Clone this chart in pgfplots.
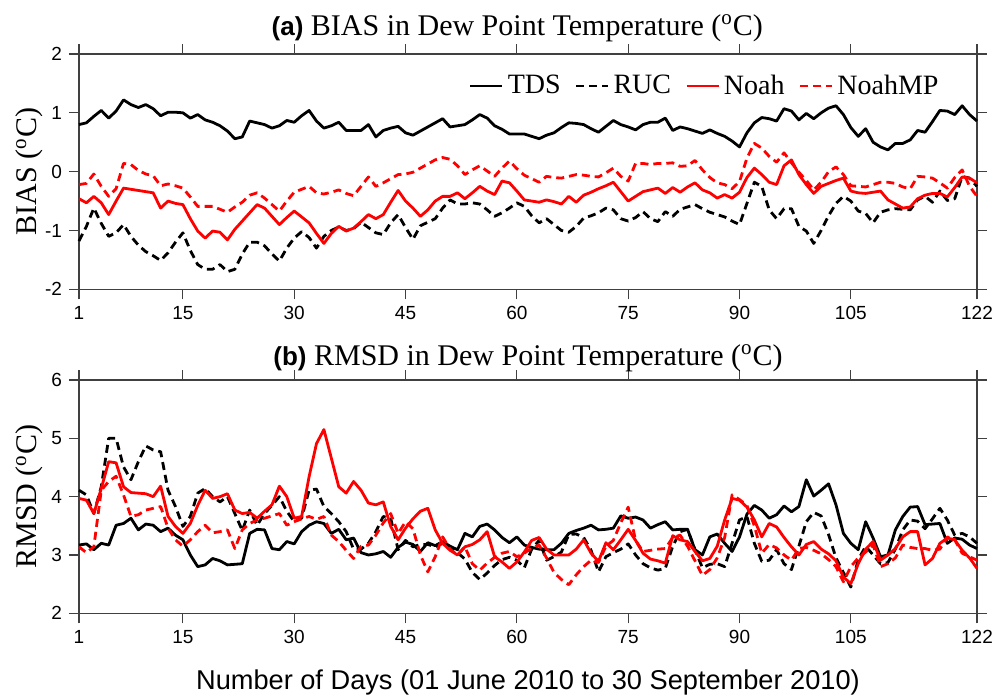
\documentclass[border=0pt]{standalone}
\usepackage{fontspec}
\setmainfont{Liberation Serif}
\newfontfamily\sansf{Liberation Sans}
\usepackage{pgfplots}
\pgfplotsset{compat=1.18}
\usepackage{pgfplotstable}

\pgfplotstableread{
d tds ruc noah mp
1 0.80 -1.18 -0.46 -0.22
2 0.83 -0.93 -0.53 -0.20
3 0.94 -0.62 -0.42 -0.04
4 1.04 -0.88 -0.53 -0.25
5 0.91 -1.10 -0.73 -0.42
6 1.03 -1.04 -0.50 -0.29
7 1.22 -0.90 -0.28 0.14
8 1.14 -1.10 -0.30 0.12
9 1.09 -1.25 -0.32 0.02
10 1.14 -1.36 -0.34 -0.04
11 1.07 -1.43 -0.36 -0.07
12 0.95 -1.51 -0.62 -0.24
13 1.01 -1.38 -0.50 -0.21
14 1.01 -1.20 -0.54 -0.24
15 1.00 -1.04 -0.56 -0.28
16 0.91 -1.34 -0.80 -0.43
17 0.97 -1.58 -1.01 -0.59
18 0.88 -1.66 -1.13 -0.59
19 0.84 -1.66 -1.01 -0.59
20 0.78 -1.58 -1.03 -0.64
21 0.69 -1.70 -1.16 -0.69
22 0.56 -1.66 -0.98 -0.60
23 0.59 -1.40 -0.84 -0.52
24 0.86 -1.20 -0.70 -0.40
25 0.83 -1.20 -0.56 -0.36
26 0.80 -1.26 -0.62 -0.45
27 0.74 -1.40 -0.76 -0.56
28 0.78 -1.52 -0.90 -0.67
29 0.87 -1.30 -0.78 -0.50
30 0.84 -1.13 -0.67 -0.35
31 0.95 -1.02 -0.77 -0.30
32 1.04 -1.12 -0.87 -0.25
33 0.86 -1.30 -1.05 -0.36
34 0.74 -1.10 -1.22 -0.38
35 0.78 -1.00 -1.05 -0.35
36 0.84 -0.94 -0.93 -0.31
37 0.70 -1.00 -1.01 -0.37
38 0.70 -0.97 -0.96 -0.41
39 0.70 -0.86 -0.85 -0.25
40 0.80 -0.95 -0.73 -0.09
41 0.59 -1.04 -0.80 -0.25
42 0.70 -1.07 -0.73 -0.19
43 0.74 -0.87 -0.52 -0.12
44 0.77 -0.73 -0.32 -0.05
45 0.66 -0.95 -0.50 -0.04
46 0.62 -1.15 -0.62 -0.01
47 0.69 -0.92 -0.76 0.06
48 0.76 -0.86 -0.65 0.13
49 0.83 -0.80 -0.50 0.20
50 0.90 -0.62 -0.42 0.24
51 0.76 -0.48 -0.42 0.21
52 0.78 -0.55 -0.36 0.10
53 0.80 -0.55 -0.46 -0.05
54 0.88 -0.53 -0.36 0.03
55 0.97 -0.55 -0.25 0.10
56 0.91 -0.65 -0.33 0.01
57 0.78 -0.76 -0.39 -0.08
58 0.72 -0.70 -0.16 0.06
59 0.64 -0.62 -0.19 0.18
60 0.64 -0.53 -0.33 0.05
61 0.64 -0.59 -0.48 -0.06
62 0.60 -0.75 -0.50 -0.12
63 0.56 -0.87 -0.52 -0.18
64 0.62 -0.80 -0.48 -0.08
65 0.66 -0.90 -0.51 -0.10
66 0.75 -1.00 -0.55 -0.11
67 0.83 -1.03 -0.42 -0.08
68 0.82 -0.93 -0.52 -0.05
69 0.80 -0.79 -0.40 -0.06
70 0.73 -0.75 -0.35 -0.08
71 0.67 -0.70 -0.29 -0.09
72 0.77 -0.62 -0.24 -0.02
73 0.87 -0.65 -0.18 0.06
74 0.80 -0.80 -0.34 -0.08
75 0.76 -0.84 -0.50 -0.16
76 0.71 -0.78 -0.42 0.14
77 0.80 -0.68 -0.34 0.14
78 0.84 -0.80 -0.31 0.12
79 0.84 -0.85 -0.28 0.14
80 0.91 -0.68 -0.37 0.14
81 0.70 -0.76 -0.27 0.15
82 0.76 -0.64 -0.35 0.09
83 0.73 -0.60 -0.26 0.10
84 0.69 -0.56 -0.19 0.19
85 0.65 -0.63 -0.31 0.03
86 0.71 -0.69 -0.36 -0.10
87 0.65 -0.73 -0.45 -0.19
88 0.60 -0.77 -0.39 -0.22
89 0.52 -0.84 -0.45 -0.29
90 0.42 -0.90 -0.35 -0.17
91 0.66 -0.54 -0.10 0.23
92 0.83 -0.18 0.06 0.48
93 0.92 -0.25 -0.05 0.40
94 0.90 -0.65 -0.18 0.26
95 0.86 -0.80 -0.22 0.16
96 1.07 -0.63 0.10 0.32
97 1.03 -0.63 0.20 0.15
98 0.88 -0.93 -0.05 -0.01
99 0.99 -1.01 -0.22 -0.15
100 0.90 -1.22 -0.37 -0.31
101 1.00 -1.00 -0.25 -0.18
102 1.08 -0.75 -0.20 0.00
103 1.12 -0.54 -0.15 0.08
104 0.97 -0.42 -0.11 -0.05
105 0.75 -0.50 -0.33 -0.24
106 0.60 -0.67 -0.36 -0.25
107 0.73 -0.71 -0.37 -0.26
108 0.50 -0.87 -0.35 -0.22
109 0.42 -0.69 -0.33 -0.18
110 0.37 -0.65 -0.48 -0.18
111 0.48 -0.63 -0.55 -0.20
112 0.48 -0.64 -0.62 -0.26
113 0.54 -0.65 -0.60 -0.29
114 0.70 -0.48 -0.46 -0.08
115 0.67 -0.42 -0.40 -0.09
116 0.85 -0.52 -0.37 -0.11
117 1.04 -0.33 -0.37 -0.19
118 1.03 -0.49 -0.43 -0.28
119 0.97 -0.46 -0.27 -0.10
120 1.12 -0.08 -0.09 0.03
121 0.97 -0.11 -0.11 -0.25
122 0.86 -0.25 -0.19 -0.42
}\topdata

\pgfplotstableread{
d tds ruc noah mp
1 3.17 4.11 3.97 3.14
2 3.19 4.03 3.94 3.04
3 3.09 3.71 3.71 3.14
4 3.20 4.17 4.14 4.11
5 3.17 5.00 4.60 4.26
6 3.51 5.00 4.58 4.35
7 3.54 4.51 4.17 4.03
8 3.63 4.29 4.07 3.66
9 3.43 4.60 4.06 3.69
10 3.53 4.87 4.05 3.77
11 3.51 4.80 4.00 3.80
12 3.40 4.77 4.18 3.83
13 3.46 4.11 3.66 3.46
14 3.34 3.83 3.49 3.26
15 3.26 3.49 3.37 3.15
16 3.00 3.66 3.54 3.26
17 2.80 4.06 3.85 3.40
18 2.83 4.14 4.11 3.51
19 2.94 4.00 3.97 3.38
20 2.90 3.91 4.00 3.40
21 2.83 4.00 4.05 3.43
22 2.84 3.71 3.77 3.11
23 2.85 3.42 3.71 3.43
24 3.37 3.77 3.73 3.54
25 3.44 3.51 3.63 3.60
26 3.43 3.71 3.75 3.63
27 3.11 3.85 3.86 3.67
28 3.09 4.00 4.18 3.71
29 3.23 3.75 4.00 3.51
30 3.19 3.57 3.63 3.57
31 3.40 3.63 3.66 3.62
32 3.51 4.11 4.34 3.66
33 3.57 4.13 4.91 3.61
34 3.54 3.83 5.15 3.66
35 3.37 3.71 4.66 3.34
36 3.44 3.57 4.17 3.23
37 3.26 3.40 4.06 3.08
38 3.29 3.10 4.26 2.94
39 3.04 3.10 4.11 3.15
40 3.00 3.20 3.89 3.17
41 3.02 3.40 3.86 3.34
42 3.06 3.66 3.91 3.55
43 2.96 3.63 3.49 3.71
44 3.13 3.09 3.26 3.37
45 3.22 3.25 3.46 3.57
46 3.18 3.14 3.62 3.45
47 3.06 3.18 3.75 3.00
48 3.21 3.18 3.80 2.71
49 3.16 3.14 3.43 2.97
50 3.23 3.20 3.20 3.31
51 3.15 3.11 3.08 3.10
52 3.09 3.04 3.00 3.00
53 3.37 2.93 3.14 3.14
54 3.31 2.70 3.18 2.85
55 3.49 2.58 3.26 2.74
56 3.53 2.69 3.40 2.86
57 3.43 2.82 2.97 2.96
58 3.30 2.92 2.88 3.03
59 3.21 2.96 2.77 3.06
60 3.31 2.91 2.88 2.97
61 3.17 2.78 3.05 3.03
62 3.13 3.10 3.25 3.12
63 3.10 3.25 3.30 3.17
64 3.09 2.91 3.10 2.95
65 3.09 2.97 3.00 2.70
66 3.20 3.05 3.00 2.58
67 3.37 3.35 3.00 2.49
68 3.42 3.36 3.10 2.66
69 3.46 3.30 3.26 2.80
70 3.51 3.08 3.03 2.91
71 3.43 2.71 2.89 2.87
72 3.44 2.97 3.21 3.15
73 3.46 3.04 3.09 3.25
74 3.67 3.10 3.26 3.55
75 3.63 3.19 3.44 3.82
76 3.65 3.00 3.25 3.25
77 3.60 2.85 3.03 3.06
78 3.46 2.78 2.93 3.08
79 3.52 2.74 2.90 3.10
80 3.57 2.77 2.86 3.11
81 3.43 3.15 3.33 3.30
82 3.44 3.40 3.26 3.34
83 3.44 3.44 3.23 3.15
84 3.09 3.09 3.06 2.90
85 3.00 2.78 2.90 2.65
86 3.31 2.84 2.94 2.75
87 3.36 2.85 3.15 2.95
88 3.20 2.80 3.60 3.30
89 3.06 3.20 3.97 4.03
90 3.31 3.60 3.94 3.95
91 3.70 3.66 3.82 3.85
92 3.85 3.20 3.60 3.50
93 3.77 2.89 3.31 3.03
94 3.63 2.91 3.54 3.18
95 3.69 3.09 3.48 3.12
96 3.84 2.85 3.30 3.00
97 3.74 2.75 3.14 2.91
98 3.83 3.15 3.00 3.11
99 4.29 3.57 3.18 3.13
100 4.01 3.73 3.23 3.08
101 4.11 3.67 3.10 3.02
102 4.22 3.35 3.02 2.92
103 3.86 2.95 2.90 2.80
104 3.37 2.70 2.62 2.54
105 3.20 2.45 2.51 2.80
106 3.09 2.92 2.85 2.95
107 3.57 3.15 3.10 3.05
108 3.29 3.00 3.23 3.17
109 2.97 2.85 2.91 2.80
110 3.00 2.87 3.00 2.85
111 3.43 3.10 3.11 2.95
112 3.66 3.43 3.31 3.17
113 3.82 3.60 3.40 3.13
114 3.83 3.58 3.40 3.11
115 3.52 3.45 2.83 3.11
116 3.53 3.62 2.94 3.08
117 3.54 3.80 3.20 3.10
118 3.20 3.60 3.29 3.31
119 3.29 3.34 3.26 3.26
120 3.27 3.37 3.08 3.03
121 3.17 3.31 2.95 2.97
122 3.11 3.20 2.77 2.91
}\botdata

\pgfplotsset{
  panel/.style={
    scale only axis, width=449pt,
    xmin=1, xmax=122,
    xtick={1,15,30,45,60,75,90,105,122},
    tick align=outside, major tick length=5pt,
    axis line style={black!75, line width=0.6pt},
    tick style={black!75, line width=0.6pt},
    /pgf/number format/assume math mode=true,
    tick label style={font=\sansf\fontsize{9.5}{11}\selectfont, black},
    clip=false,
  },
  tds/.style={black, line width=1.4pt, line join=round},
  ruc/.style={black, line width=1.4pt, line join=round, dash pattern=on 4pt off 2.5pt},
  noah/.style={red, line width=1.4pt, line join=round},
  nmp/.style={red, line width=1.4pt, line join=round, dash pattern=on 4pt off 2.5pt},
}

\begin{document}
\begin{tikzpicture}
\useasboundingbox (0pt,0pt) rectangle (499pt,-349.5pt);

\begin{axis}[panel,
  at={(39.5pt,-144.65pt)}, anchor=south west,
  height=117.65pt,
  ymin=-2, ymax=2, ytick={-2,-1,0,1,2},
  legend columns=4,
  legend style={draw=none, fill=none, at={(0.962,0.93)}, anchor=north east,
    font=\fontsize{14}{16}\selectfont, inner sep=0pt,
    /tikz/every even column/.append style={column sep=5pt}},
  legend image code/.code={\draw[#1] (0pt,0pt) -- (16pt,0pt);},
]
\addplot[tds] table[x=d, y=tds] {\topdata};
\addplot[ruc] table[x=d, y=ruc] {\topdata};
\addplot[noah] table[x=d, y=noah] {\topdata};
\addplot[nmp] table[x=d, y=mp] {\topdata};
\legend{TDS, RUC, Noah, NoahMP}
\node[anchor=base, font=\fontsize{15}{17}\selectfont] at ([yshift=9.5pt]rel axis cs:0.488,1)
  {{\sansf\bfseries\fontsize{13}{15}\selectfont (a)} BIAS in Dew Point Temperature (\textsuperscript{o}C)};
\node[anchor=base, xshift=-21.2pt, rotate=90, font=\fontsize{15}{17}\selectfont] at (rel axis cs:0,0.5)
  {BIAS (\textsuperscript{o}C)};
\end{axis}

\begin{axis}[panel,
  at={(39.5pt,-306.65pt)}, anchor=south west,
  height=116.65pt,
  ymin=2, ymax=6, ytick={2,3,4,5,6},
]
\addplot[tds] table[x=d, y=tds] {\botdata};
\addplot[ruc] table[x=d, y=ruc] {\botdata};
\addplot[noah] table[x=d, y=noah] {\botdata};
\addplot[nmp] table[x=d, y=mp] {\botdata};
\node[anchor=base, font=\fontsize{15}{17}\selectfont] at ([yshift=7.5pt]rel axis cs:0.5,1)
  {{\sansf\bfseries\fontsize{13}{15}\selectfont (b)} RMSD in Dew Point Temperature (\textsuperscript{o}C)};
\node[anchor=base, xshift=-21.2pt, rotate=90, font=\fontsize{15}{17}\selectfont] at (rel axis cs:0,0.5)
  {RMSD (\textsuperscript{o}C)};
\node[anchor=base, font=\sansf\fontsize{13.6}{15}\selectfont] at ([yshift=-38.35pt]rel axis cs:0.5,0)
  {Number of Days (01 June 2010 to 30 September 2010)};
\end{axis}
\end{tikzpicture}
\end{document}
